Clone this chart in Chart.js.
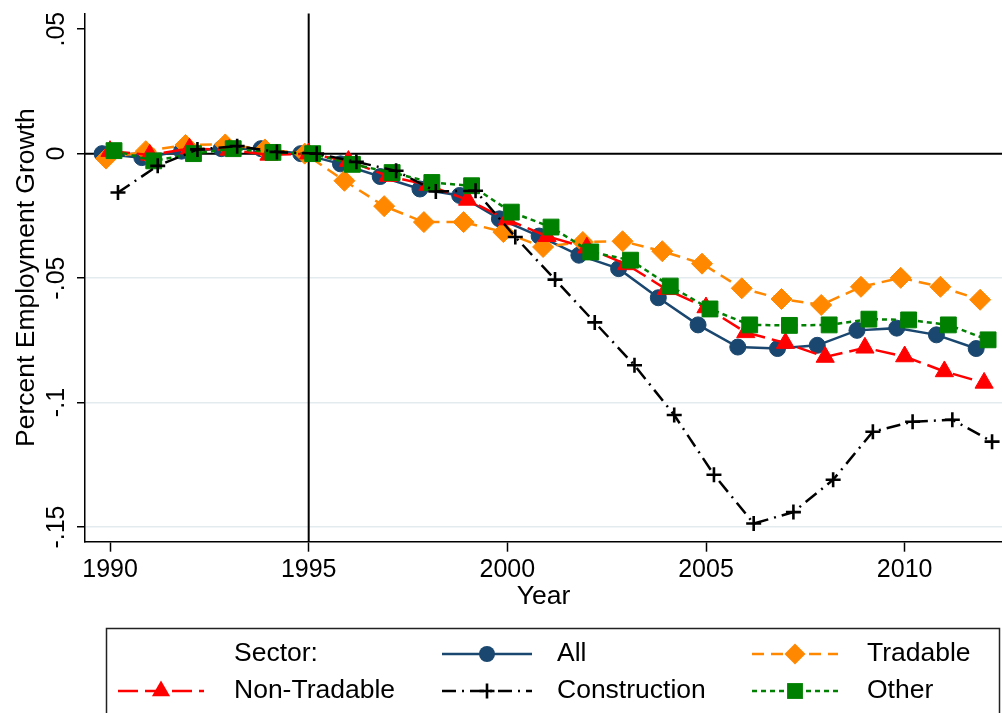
<!DOCTYPE html>
<html><head><meta charset="utf-8">
<script src="https://cdn.jsdelivr.net/npm/chart.js@4.4.1/dist/chart.umd.min.js"></script>
<style>html,body{margin:0;padding:0;background:#fff;overflow:hidden}canvas{display:block}</style>
</head><body>
<canvas id="c" width="1002" height="713"></canvas>
<script>
// ---------------- data ----------------
const years = [1990,1991,1992,1993,1994,1995,1996,1997,1998,1999,2000,2001,2002,2003,2004,2005,2006,2007,2008,2009,2010,2011,2012];
const allSectors   = [0,-0.0016,0.001,0.002,0.002,0,-0.0041,-0.0092,-0.0142,-0.0168,-0.0262,-0.0331,-0.0408,-0.0462,-0.0579,-0.0688,-0.0777,-0.0783,-0.0770,-0.0710,-0.0701,-0.0728,-0.0783];
const tradable     = [-0.002,0.001,0.0035,0.0037,0.0017,0,-0.0109,-0.0211,-0.0275,-0.0275,-0.0315,-0.0375,-0.0355,-0.0352,-0.0392,-0.0442,-0.0541,-0.0584,-0.0608,-0.0535,-0.0499,-0.0535,-0.0587];
const nonTradable  = [0.001,-0.0005,0.002,0.0015,-0.0005,0,-0.003,-0.009,-0.0126,-0.0186,-0.0265,-0.0332,-0.0378,-0.0445,-0.0545,-0.0618,-0.0718,-0.0761,-0.0817,-0.0780,-0.0815,-0.0875,-0.0921];
const construction = [-0.0156,-0.0049,0.0017,0.003,0.0007,0,-0.0033,-0.0069,-0.0152,-0.0149,-0.0335,-0.0506,-0.0678,-0.0850,-0.1050,-0.1290,-0.1486,-0.1440,-0.1310,-0.1117,-0.1077,-0.1069,-0.1157];
const other        = [0.0012,-0.0029,0,0.002,0.0005,0,-0.0043,-0.0076,-0.0116,-0.0129,-0.0235,-0.0295,-0.0395,-0.0428,-0.0532,-0.0624,-0.0688,-0.0690,-0.0688,-0.0665,-0.0668,-0.0688,-0.0748];
const seriesNames  = ['All','Tradable','Non-Tradable','Construction','Other'];
const xTickValues  = [1990,1995,2000,2005,2010];
const yTickValues  = [-0.15,-0.1,-0.05,0,0.05];
const yTickLabels  = ['-.15','-.1','-.05','0','.05'];
const yGridValues  = [-0.15,-0.1,-0.05];
const legendTitle  = 'Sector:';
const eventYear    = 1995;
const xTitle = 'Year';
const yTitle = 'Percent Employment Growth';

// ---------------- styles ----------------
const FONT = "'Liberation Sans', Arial, Helvetica, sans-serif";
Chart.defaults.font.family = FONT;
Chart.defaults.color = '#000';

const styles = {
  'All':          {values: allSectors,   color:'#1a476f', dash:[],          point:'circle',   r:8,    bw:1,   jitter:-0.2, order:4},
  'Tradable':     {values: tradable,     color:'#ff8800', dash:[12,7],      point:'rectRot',  r:10.5, bw:1,   jitter:-0.1, order:3},
  'Non-Tradable': {values: nonTradable,  color:'#ff0000', dash:[20,7],      point:'triangle', r:10.5, bw:1,   jitter:0,    order:2},
  'Other':        {values: other,        color:'#008000', dash:[5,4],       point:'rect',     r:11.2, bw:1,   jitter:0.1,  order:1},
  'Construction': {values: construction, color:'#000000', dash:[14,6,2,6],  point:'cross',    r:7.5,  bw:2.6, jitter:0.2,  order:0}
};
const lineWidth = 2.5;

const datasets = seriesNames.map(name => {
  const s = styles[name];
  return {
    label: name,
    data: years.map((yr, i) => ({x: yr + s.jitter, y: s.values[i]})),
    borderColor: s.color,
    backgroundColor: s.color,
    borderWidth: lineWidth,
    borderDash: s.dash,
    tension: 0,
    pointStyle: s.point,
    pointRadius: s.r,
    pointHoverRadius: s.r,
    pointBorderWidth: s.bw,
    pointBackgroundColor: s.color,
    pointBorderColor: s.color,
    order: s.order
  };
});

const refLines = {
  id: 'refLines',
  beforeDatasetsDraw(chart) {
    const {ctx, chartArea: a, scales: {x, y}} = chart;
    ctx.save();
    ctx.strokeStyle = '#000';
    ctx.lineWidth = 2;
    const y0 = y.getPixelForValue(0);
    ctx.beginPath(); ctx.moveTo(a.left, y0); ctx.lineTo(a.right, y0); ctx.stroke();
    const x0 = x.getPixelForValue(eventYear);
    ctx.beginPath(); ctx.moveTo(x0, a.top); ctx.lineTo(x0, a.bottom); ctx.stroke();
    ctx.restore();
  }
};

function drawMarker(ctx, kind, x, y, r, color, bw) {
  ctx.save();
  ctx.setLineDash([]);
  ctx.fillStyle = color; ctx.strokeStyle = color; ctx.lineWidth = bw;
  ctx.beginPath();
  if (kind === 'circle') {
    ctx.arc(x, y, r, 0, Math.PI * 2);
    ctx.fill();
  } else if (kind === 'rectRot') {
    ctx.moveTo(x - r, y); ctx.lineTo(x, y - r); ctx.lineTo(x + r, y); ctx.lineTo(x, y + r); ctx.closePath();
    ctx.fill();
  } else if (kind === 'triangle') {
    ctx.moveTo(x, y - r); ctx.lineTo(x + 0.866 * r, y + 0.5 * r); ctx.lineTo(x - 0.866 * r, y + 0.5 * r); ctx.closePath();
    ctx.fill();
  } else if (kind === 'rect') {
    const h = r * Math.SQRT1_2;
    ctx.rect(x - h, y - h, 2 * h, 2 * h);
    ctx.fill();
  } else if (kind === 'cross') {
    ctx.moveTo(x - r, y); ctx.lineTo(x + r, y); ctx.moveTo(x, y - r); ctx.lineTo(x, y + r);
    ctx.stroke();
  }
  ctx.restore();
}

const legendLayout = {
  box: {left: 106, top: 628, right: 999},
  rows: [654, 691],
  cols: [{x1: 118, x2: 204, text: 234}, {x1: 442, x2: 532, text: 557}, {x1: 752, x2: 838, text: 867}],
  titleCell: [0, 0],
  cells: {'All': [0, 1], 'Tradable': [0, 2], 'Non-Tradable': [1, 0], 'Construction': [1, 1], 'Other': [1, 2]}
};

const customLegend = {
  id: 'customLegend',
  afterDraw(chart) {
    const ctx = chart.ctx;
    const L = legendLayout;
    ctx.save();
    ctx.strokeStyle = '#222';
    ctx.lineWidth = 1.5;
    ctx.strokeRect(L.box.left + 0.5, L.box.top + 0.5, L.box.right - L.box.left, 200);
    ctx.font = '26.5px ' + FONT;
    ctx.fillStyle = '#000';
    ctx.textBaseline = 'middle';
    ctx.textAlign = 'left';
    ctx.fillText(legendTitle, L.cols[L.titleCell[1]].text, L.rows[L.titleCell[0]]);
    seriesNames.forEach(name => {
      const s = styles[name];
      const [ri, ci] = L.cells[name];
      const y = L.rows[ri], c = L.cols[ci];
      ctx.save();
      ctx.strokeStyle = s.color;
      ctx.lineWidth = lineWidth;
      ctx.setLineDash(s.dash);
      ctx.beginPath(); ctx.moveTo(c.x1, y); ctx.lineTo(c.x2, y); ctx.stroke();
      ctx.restore();
      drawMarker(ctx, s.point, (c.x1 + c.x2) / 2, y, s.r, s.color, s.bw);
      ctx.fillStyle = '#000';
      ctx.fillText(name, c.text, y);
    });
    ctx.restore();
  }
};

new Chart(document.getElementById('c'), {
  type: 'line',
  data: {datasets},
  plugins: [refLines, customLegend],
  options: {
    responsive: false,
    animation: false,
    devicePixelRatio: 1,
    events: [],
    layout: {autoPadding: false, padding: {top: 10, left: 0, right: 0, bottom: 85.3}},
    plugins: {legend: {display: false}, tooltip: {enabled: false}},
    scales: {
      x: {
        type: 'linear', min: 1989.37, max: 2012.45,
        afterBuildTicks: s => { s.ticks = xTickValues.map(v => ({value: v})); },
        afterFit: s => { s.height = 86; },
        grid: {drawOnChartArea: false, drawTicks: true, tickLength: 10, tickColor: '#000', tickWidth: 1.5},
        border: {display: true, color: '#000', width: 1.5},
        ticks: {font: {size: 25}, color: '#000', padding: 3, maxRotation: 0, minRotation: 0, autoSkip: false, callback: v => String(v)},
        title: {display: true, text: xTitle, font: {size: 26.5}, color: '#000', padding: {top: 0, bottom: 15.5}}
      },
      y: {
        type: 'linear', min: -0.1559, max: 0.0563,
        afterBuildTicks: s => { s.ticks = yTickValues.map(v => ({value: v})); },
        afterFit: s => { s.width = 85; },
        grid: {
          color: ctx => (ctx.tick && yGridValues.includes(ctx.tick.value)) ? '#e4ebef' : 'rgba(0,0,0,0)',
          lineWidth: 1.5, drawTicks: true, tickLength: 8, tickColor: '#000', tickWidth: 1.5
        },
        border: {display: true, color: '#000', width: 1.5},
        ticks: {font: {size: 25}, color: '#000', minRotation: 90, maxRotation: 90, crossAlign: 'center', padding: -1.5, autoSkip: false,
                callback: v => yTickLabels[yTickValues.indexOf(v)]},
        title: {display: true, text: yTitle, font: {size: 26.5}, color: '#000', padding: {top: 11, bottom: 0}}
      }
    }
  }
});
</script>
</body></html>
